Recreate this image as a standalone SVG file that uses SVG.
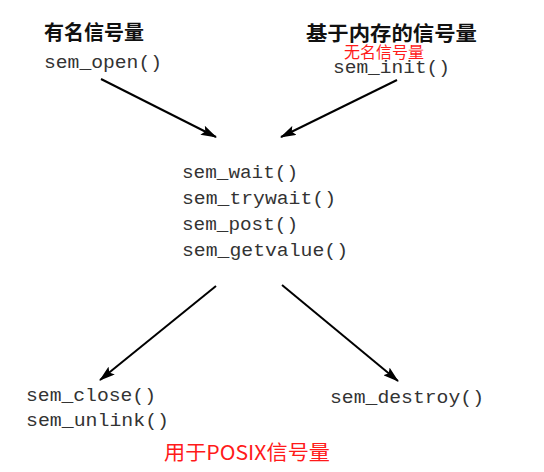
<svg xmlns="http://www.w3.org/2000/svg" width="544" height="472" viewBox="0 0 544 472">
<defs>
<marker id="ah" viewBox="0 0 16 10" refX="15" refY="5" markerWidth="16" markerHeight="10" markerUnits="userSpaceOnUse" orient="auto">
<path d="M0,0 L16,5 L0,10 L3,5 Z" fill="#000"/>
</marker>
</defs>
<style>
.code{font-family:"Liberation Mono","DejaVu Sans Mono",monospace;font-size:19px;fill:#333}
.title{font-family:"Noto Sans CJK SC",sans-serif;font-size:20px;font-weight:bold;fill:#111}
.red{font-family:"Noto Sans CJK SC",sans-serif;fill:#ff1a1a}
.conn{stroke:#000;stroke-width:2;fill:none;marker-end:url(#ah)}
</style>
<rect width="544" height="472" fill="#fff"/>
<g id="named">
<text class="title" x="44" y="40">有名信号量</text>
<text class="code" x="44" y="68" textLength="118" lengthAdjust="spacingAndGlyphs">sem_open()</text>
</g>
<g id="memory">
<text class="title" x="306" y="41" textLength="171" lengthAdjust="spacingAndGlyphs">基于内存的信号量</text>
<text class="red" x="344" y="58" font-size="16">无名信号量</text>
<text class="code" x="333" y="73" textLength="117" lengthAdjust="spacingAndGlyphs">sem_init()</text>
</g>
<g id="ops">
<text class="code" x="182" y="178" textLength="116" lengthAdjust="spacingAndGlyphs">sem_wait()</text>
<text class="code" x="182" y="204" textLength="154" lengthAdjust="spacingAndGlyphs">sem_trywait()</text>
<text class="code" x="182" y="230" textLength="116" lengthAdjust="spacingAndGlyphs">sem_post()</text>
<text class="code" x="182" y="256" textLength="166" lengthAdjust="spacingAndGlyphs">sem_getvalue()</text>
</g>
<g id="closeunlink">
<text class="code" x="26" y="401" textLength="130" lengthAdjust="spacingAndGlyphs">sem_close()</text>
<text class="code" x="26" y="426" textLength="143" lengthAdjust="spacingAndGlyphs">sem_unlink()</text>
</g>
<g id="destroy">
<text class="code" x="330" y="403" textLength="154" lengthAdjust="spacingAndGlyphs">sem_destroy()</text>
</g>
<g id="posix">
<text class="red" x="164" y="460" font-size="20" textLength="166" lengthAdjust="spacingAndGlyphs">用于POSIX信号量</text>
</g>
<g id="connectors">
<line class="conn" x1="101" y1="79" x2="216" y2="137"/>
<line class="conn" x1="397" y1="80" x2="281" y2="137"/>
<line class="conn" x1="216" y1="286" x2="100" y2="380"/>
<line class="conn" x1="282" y1="285" x2="398" y2="381"/>
</g>
</svg>
